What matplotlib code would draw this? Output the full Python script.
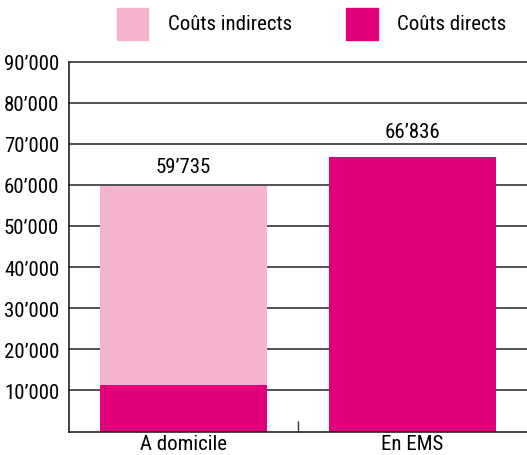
import matplotlib
matplotlib.use("Agg")
import matplotlib.pyplot as plt
from matplotlib.patches import Rectangle
from matplotlib import font_manager

categories = ["A domicile", "En EMS"]
direct = [11300, 66836]
indirect = [48435, 0]
totals = ["59’735", "66’836"]
yticks = [10000, 20000, 30000, 40000, 50000, 60000, 70000, 80000, 90000]
ytick_labels = ["10’000", "20’000", "30’000", "40’000", "50’000", "60’000", "70’000", "80’000", "90’000"]
legend_labels = ["Coûts indirects", "Coûts directs"]

c_direct = "#E2007A"
c_indirect = "#F4B4CF"

names = {f.name for f in font_manager.fontManager.ttflist}
main = "Roboto"
for cand in ["Roboto Condensed", "Archivo Narrow", "Liberation Sans Narrow", "PT Sans Narrow", "Arimo"]:
    if cand in names:
        main = cand
        break
plt.rcParams['font.family'] = [main, "DejaVu Sans"]
FS = 15

W, H = 527, 456
fig = plt.figure(figsize=(W/100, H/100), dpi=100)
ax = fig.add_axes([69/W, 1-432.5/H, 1-69/W, (432.5-62.5)/H])

x = list(range(len(categories)))
for y in yticks:
    ax.axhline(y, color="#333333", lw=1.2, zorder=0, clip_on=False)
ax.bar(x, direct, width=0.725, color=c_direct, zorder=2)
ax.bar(x, indirect, width=0.725, bottom=direct, color=c_indirect, zorder=2)

vals = [d + i for d, i in zip(direct, indirect)]
label_pad = [3400, 4800]
for xi, v, t, p in zip(x, vals, totals, label_pad):
    ax.text(xi, v + p, t, ha="center", va="baseline", fontsize=FS)

ax.set_xlim(-0.5, 1.5)
ax.set_ylim(0, 90000)
ax.set_yticks(yticks)
ax.set_yticklabels(ytick_labels, fontsize=FS)
ax.set_xticks(x)
ax.set_xticklabels(categories, fontsize=FS)
ax.tick_params(axis="y", length=0, pad=7)
ax.tick_params(axis="x", length=0, pad=2)
ax.set_xticks([0.5], minor=True)
ax.tick_params(axis="x", which="minor", direction="in", length=8, width=1, color="#333333")
for s in ["top", "right"]:
    ax.spines[s].set_visible(False)
for s in ["left", "bottom"]:
    ax.spines[s].set_linewidth(1.2)
    ax.spines[s].set_color("#222222")

# legend
for (x0, x1, tx), lab, col in zip([(117, 148, 168), (346, 378, 397)], legend_labels, [c_indirect, c_direct]):
    fig.add_artist(Rectangle((x0/W, 1-41/H), (x1-x0)/W, 32/H, transform=fig.transFigure, color=col))
    fig.text(tx/W, 1-25/H, lab, fontsize=FS, va="center", ha="left")

fig.savefig("out.png", dpi=100)
